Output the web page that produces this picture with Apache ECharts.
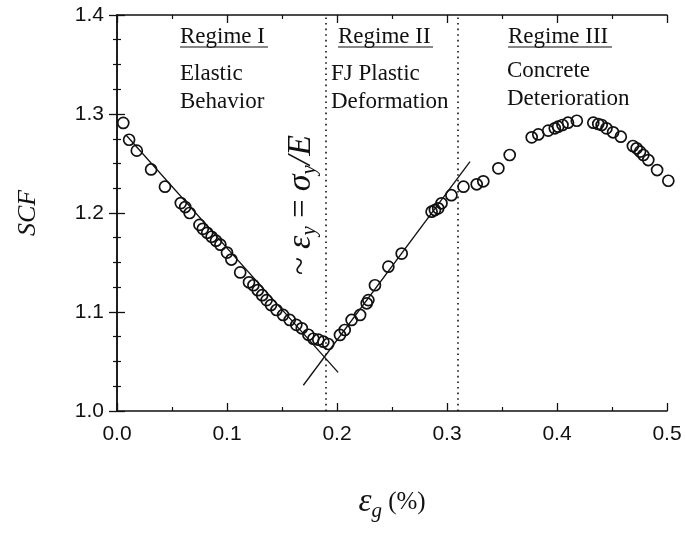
<!DOCTYPE html>
<html>
<head>
<meta charset="utf-8">
<script src="https://cdn.jsdelivr.net/npm/echarts@6/dist/echarts.min.js"></script>
<style>
html,body{margin:0;padding:0;background:#fff;}
#c{width:686px;height:537px;}
</style>
</head>
<body>
<div id="c"></div>
<script>
// ---- data ----
var strainI = [0.0057,0.011,0.018,0.031,0.0436,0.058,0.062,0.066,0.075,0.078,0.082,0.086,0.090,0.094,0.100,0.104,0.112,0.120,0.124,0.128,0.132,0.136,0.140,0.145,0.151,0.157,0.163,0.168,0.174,0.1785,0.183,0.1876,0.192];
var scfI    = [1.291,1.274,1.263,1.244,1.2266,1.210,1.206,1.200,1.188,1.184,1.180,1.176,1.172,1.168,1.160,1.153,1.140,1.130,1.127,1.122,1.117,1.112,1.107,1.102,1.097,1.092,1.087,1.0835,1.077,1.073,1.072,1.070,1.0677];
var strainII = [0.2027,0.207,0.2133,0.221,0.227,0.2285,0.2345,0.2467,0.2588,0.286,0.289,0.292,0.295,0.304];
var scfII    = [1.0768,1.0818,1.092,1.097,1.1088,1.112,1.127,1.1458,1.159,1.2013,1.203,1.2047,1.2098,1.218];
var strainIII = [0.315,0.327,0.333,0.3467,0.357,0.377,0.383,0.392,0.398,0.401,0.405,0.410,0.418,0.433,0.4375,0.4406,0.445,0.451,0.458,0.469,0.4724,0.4755,0.4785,0.483,0.491,0.5012];
var scfIII    = [1.2266,1.229,1.232,1.2451,1.2586,1.2764,1.2794,1.2832,1.2855,1.2872,1.2889,1.2912,1.2932,1.2912,1.2899,1.2889,1.2855,1.2815,1.2771,1.2677,1.2653,1.262,1.2586,1.2535,1.2434,1.2326];
var fitIx = [0.008,0.201],  fitIy = [1.279,1.039];
var fitIIx = [0.1694,0.3209], fitIIy = [1.026,1.2518];
var boundaryX = [0.19,0.31];
var yRange = [1.0,1.4];
var xTicks = ['0.0','0.1','0.2','0.3','0.4','0.5'];
var yTicks = ['1.0','1.1','1.2','1.3','1.4'];

function zip(a,b){return a.map(function(v,i){return [v,b[i]];});}
var pts = zip(strainI,scfI).concat(zip(strainII,scfII)).concat(zip(strainIII,scfIII));

var ink = '#111';
var serif = 'Liberation Serif';
var sans = 'Liberation Sans';

var axisCommon = {
  axisLine:{show:true,lineStyle:{color:ink,width:1.5}},
  axisTick:{show:true,inside:true,length:8,lineStyle:{color:ink,width:1.3}},
  splitLine:{show:false}
};

var chart = echarts.init(document.getElementById('c'));
var series = [
  {type:'scatter',data:pts,symbol:'circle',symbolSize:11,
   itemStyle:{color:'rgba(255,255,255,0)',borderColor:ink,borderWidth:1.7,opacity:1},clip:false,z:3},
  {type:'line',data:zip(fitIx,fitIy),symbol:'none',lineStyle:{color:ink,width:1.3},z:4},
  {type:'line',data:zip(fitIIx,fitIIy),symbol:'none',lineStyle:{color:ink,width:1.3},z:4}
];
boundaryX.forEach(function(bx){
  series.push({type:'line',data:[[bx,yRange[0]],[bx,yRange[1]]],symbol:'none',
    lineStyle:{color:ink,width:1.6,type:[1.6,4]},z:2});
});

var serifFont = '23px "Liberation Serif"';
chart.setOption({
  animation:false,
  backgroundColor:'#fff',
  grid:{left:117,right:19,top:15,bottom:126},
  xAxis:[Object.assign({type:'value',min:0,max:0.5,interval:0.1,position:'bottom',
    axisLabel:{fontFamily:sans,fontSize:21,color:ink,margin:13,formatter:function(v){return xTicks[Math.round(v*10)];}},
    name:'{e|ε}{sub|g}{t| (%)}',nameLocation:'middle',nameGap:72,
    nameTextStyle:{rich:{e:{fontFamily:serif,fontStyle:'italic',fontSize:33,color:ink},
      sub:{fontFamily:serif,fontStyle:'italic',fontSize:21,color:ink,padding:[18,0,0,0]},
      t:{fontFamily:serif,fontSize:25,color:ink}}}
  },axisCommon,{minorTick:{show:true,splitNumber:2,length:4,lineStyle:{color:ink,width:1.2}}}),
  Object.assign({type:'value',min:0,max:0.5,interval:0.1,position:'top',axisLabel:{show:false}},axisCommon,
    {minorTick:{show:true,splitNumber:2,length:4,lineStyle:{color:ink,width:1.2}}})],
  yAxis:[Object.assign({type:'value',min:1.0,max:1.4,interval:0.1,position:'left',
    axisLabel:{fontFamily:sans,fontSize:21,color:ink,margin:13,formatter:function(v){return yTicks[Math.round((v-1)*10)];}},
    name:'SCF',nameLocation:'middle',nameGap:76,nameRotate:90,
    nameTextStyle:{fontFamily:serif,fontStyle:'italic',fontSize:26,color:ink}
  },axisCommon,{minorTick:{show:true,splitNumber:4,length:4,lineStyle:{color:ink,width:1.2}}}),
  Object.assign({type:'value',min:1.0,max:1.4,interval:0.1,position:'right',axisLabel:{show:false}},axisCommon,
    {minorTick:{show:true,splitNumber:4,length:4,lineStyle:{color:ink,width:1.2}}})],
  series:series,
  graphic:[
    {type:'text',left:180,top:25,style:{text:'Regime I',font:serifFont,fill:ink}},
    {type:'line',shape:{x1:180,y1:47,x2:268,y2:47},style:{stroke:ink,lineWidth:1.2}},
    {type:'text',left:180,top:60,style:{text:'Elastic\nBehavior',font:serifFont,fill:ink,lineHeight:28}},
    {type:'text',left:338,top:25,style:{text:'Regime II',font:serifFont,fill:ink}},
    {type:'line',shape:{x1:338,y1:47,x2:433,y2:47},style:{stroke:ink,lineWidth:1.2}},
    {type:'text',left:331,top:60,style:{text:'FJ Plastic\nDeformation',font:serifFont,fill:ink,lineHeight:28}},
    {type:'text',left:508,top:25,style:{text:'Regime III',font:serifFont,fill:ink}},
    {type:'line',shape:{x1:508,y1:47,x2:612,y2:47},style:{stroke:ink,lineWidth:1.2}},
    {type:'text',left:507,top:57,style:{text:'Concrete\nDeterioration',font:serifFont,fill:ink,lineHeight:28}},
    {type:'text',x:301,y:205,rotation:Math.PI/2,
     style:{text:'{t|~ }{i|ε}{s|y}{t| = }{i|σ}{s|y}{i|/E}',align:'center',verticalAlign:'middle',
       rich:{t:{font:'33px "Liberation Serif"',fill:ink},
             i:{font:'italic 34px "Liberation Serif"',fill:ink},
             s:{font:'italic 21px "Liberation Serif"',fill:ink,padding:[16,0,0,0]}}}}
  ]
});
</script>
</body>
</html>
